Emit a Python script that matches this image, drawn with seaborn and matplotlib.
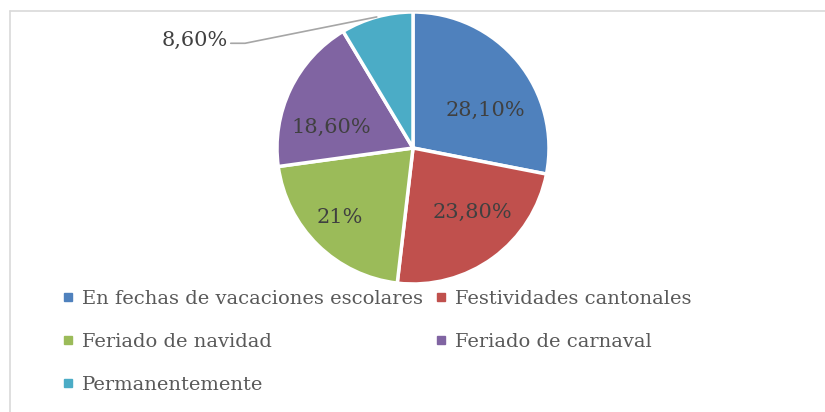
import numpy as np
import seaborn as sns
import matplotlib.pyplot as plt
from matplotlib.lines import Line2D

# Data
categories = ["En fechas de vacaciones escolares", "Festividades cantonales",
              "Feriado de navidad", "Feriado de carnaval", "Permanentemente"]
values = [28.10, 23.80, 21.0, 18.60, 8.60]
pct_labels = ["28,10%", "23,80%", "21%", "18,60%", "8,60%"]
colors = ["#4F81BD", "#C0504D", "#9BBB59", "#8064A2", "#4BACC6"]

sns.set_theme(style="white")
plt.rcParams['font.family'] = ['DejaVu Serif']

fig = plt.figure(figsize=(8.25, 4.12), dpi=100)

# pie axes placed around the pie centre (413, 148) with radius 136 px
cx, cy, r = 413, 148, 136
ax = fig.add_axes([(cx - r) / 825, 1 - (cy + r) / 412, 2 * r / 825, 2 * r / 412])
wedges, _ = ax.pie(values, colors=colors, startangle=90, counterclock=False,
                   wedgeprops=dict(edgecolor="white", linewidth=2.5))
ax.set_xlim(-1, 1)
ax.set_ylim(-1, 1)
ax.set_aspect("equal")
ax.axis("off")

# label offsets (radius units) like the office layout
label_pos = [(0.53, 0.28), (0.44, -0.47), (-0.54, -0.51), (-0.60, 0.15)]
for (x, y), txt in zip(label_pos, pct_labels[:4]):
    ax.text(x, y, txt, ha="center", va="center", fontsize=15, color="#404040")

# outside label with leader line for the small slice
w = wedges[4]
mid = np.deg2rad((w.theta1 + w.theta2) / 2)
edge = (np.cos(mid), np.sin(mid))
ax.plot([edge[0], -1.235, -1.34], [edge[1], 0.77, 0.77], color="#A6A6A6",
        linewidth=1.2, clip_on=False)
ax.text(-1.36, 0.79, pct_labels[4], ha="right", va="center", fontsize=15,
        color="#404040", clip_on=False)

# legend in row order
order = [0, 2, 4, 1, 3]
handles = [Line2D([], [], marker="s", linestyle="", markersize=6, color=colors[i]) for i in order]
labels = [categories[i] for i in order]
fig.legend(handles, labels, ncol=2, loc="upper left", bbox_to_anchor=(0.0635, 0.32),
           frameon=False, fontsize=14, handlelength=0.6, handletextpad=0.4,
           columnspacing=0.65, labelspacing=1.28, borderpad=0, labelcolor="#595959")

# chart area border (top and left visible)
fig.add_artist(Line2D([10 / 825, 1], [1 - 11 / 412, 1 - 11 / 412], color="#D9D9D9", linewidth=1.2))
fig.add_artist(Line2D([10 / 825, 10 / 825], [0, 1 - 11 / 412], color="#D9D9D9", linewidth=1.2))

fig.savefig("out.png", dpi=100, facecolor="white")
